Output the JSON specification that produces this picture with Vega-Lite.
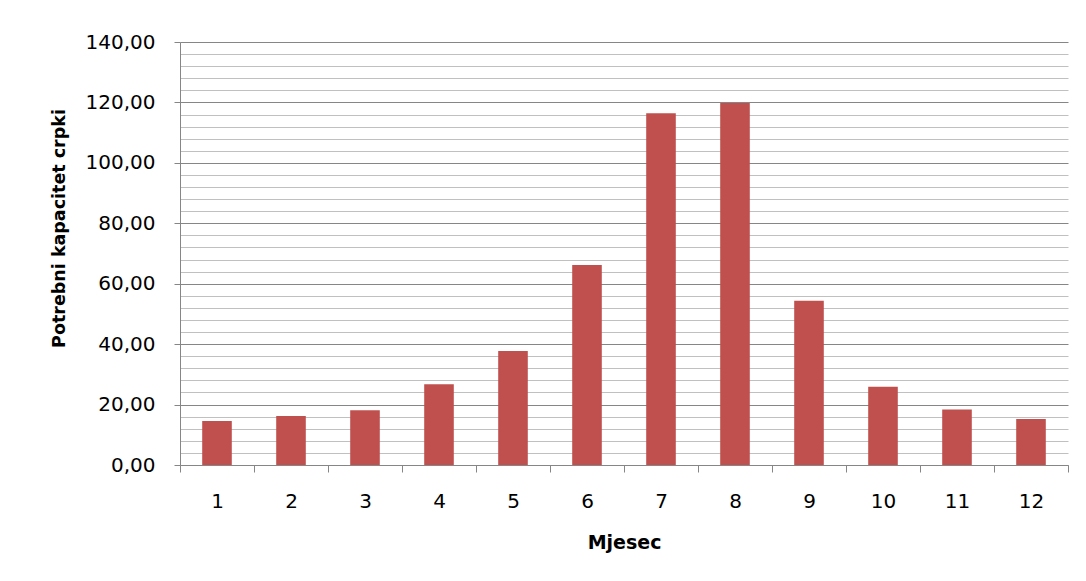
{
  "$schema": "https://vega.github.io/schema/vega-lite/v6.json",
  "width": 888,
  "height": 423,
  "autosize": {"type": "none"},
  "padding": {"left": 180, "top": 42, "right": 18, "bottom": 116},
  "background": "white",
  "config": {"view": {"stroke": null}, "font": "DejaVu Sans"},
  "data": {
    "values": [
      {"Mjesec": 1, "Kapacitet": 14.6},
      {"Mjesec": 2, "Kapacitet": 16.2},
      {"Mjesec": 3, "Kapacitet": 18.1},
      {"Mjesec": 4, "Kapacitet": 26.7},
      {"Mjesec": 5, "Kapacitet": 37.7},
      {"Mjesec": 6, "Kapacitet": 66.2},
      {"Mjesec": 7, "Kapacitet": 116.4},
      {"Mjesec": 8, "Kapacitet": 119.8},
      {"Mjesec": 9, "Kapacitet": 54.4},
      {"Mjesec": 10, "Kapacitet": 25.9},
      {"Mjesec": 11, "Kapacitet": 18.4},
      {"Mjesec": 12, "Kapacitet": 15.2}
    ]
  },
  "mark": {"type": "bar", "color": "#C0504D", "width": {"band": 0.4}},
  "encoding": {
    "x": {
      "field": "Mjesec",
      "type": "ordinal",
      "scale": {"paddingInner": 0, "paddingOuter": 0},
      "axis": {
        "title": "Mjesec",
        "labelAngle": 0,
        "tickBand": "extent",
        "ticks": true,
        "tickSize": 7,
        "tickColor": "#868686",
        "domainColor": "#868686",
        "grid": false,
        "labelFontSize": 20,
        "labelColor": "#000000",
        "labelPadding": 35,
        "labelBaseline": "alphabetic",
        "titleFontSize": 19,
        "titleFontWeight": "bold",
        "titleColor": "#000000",
        "titleY": 83,
        "titleBaseline": "alphabetic"
      }
    },
    "y": {
      "field": "Kapacitet",
      "type": "quantitative",
      "scale": {"domain": [0, 140], "nice": false},
      "axis": {
        "title": "Potrebni kapacitet crpki",
        "values": [0,4,8,12,16,20,24,28,32,36,40,44,48,52,56,60,64,68,72,76,80,84,88,92,96,100,104,108,112,116,120,124,128,132,136,140],
        "labelExpr": "datum.value % 20 === 0 ? replace(format(datum.value, '.2f'), '.', ',') : ''",
        "grid": true,
        "gridColor": {"condition": {"test": "datum.value % 20 === 0", "value": "#868686"}, "value": "#c0c0c0"},
        "gridWidth": 1,
        "tickColor": {"condition": {"test": "datum.value % 20 === 0", "value": "#868686"}, "value": "transparent"},
        "tickSize": 6,
        "domainColor": "#868686",
        "labelFontSize": 20,
        "labelColor": "#000000",
        "labelPadding": 19,
        "labelOverlap": false,
        "titleFontSize": 17.5,
        "titleFontWeight": "bold",
        "titleColor": "#000000",
        "titleX": -121,
        "titleY": 186,
        "titleBaseline": "middle",
        "titleAlign": "center",
        "titleAngle": -90
      }
    }
  }
}
